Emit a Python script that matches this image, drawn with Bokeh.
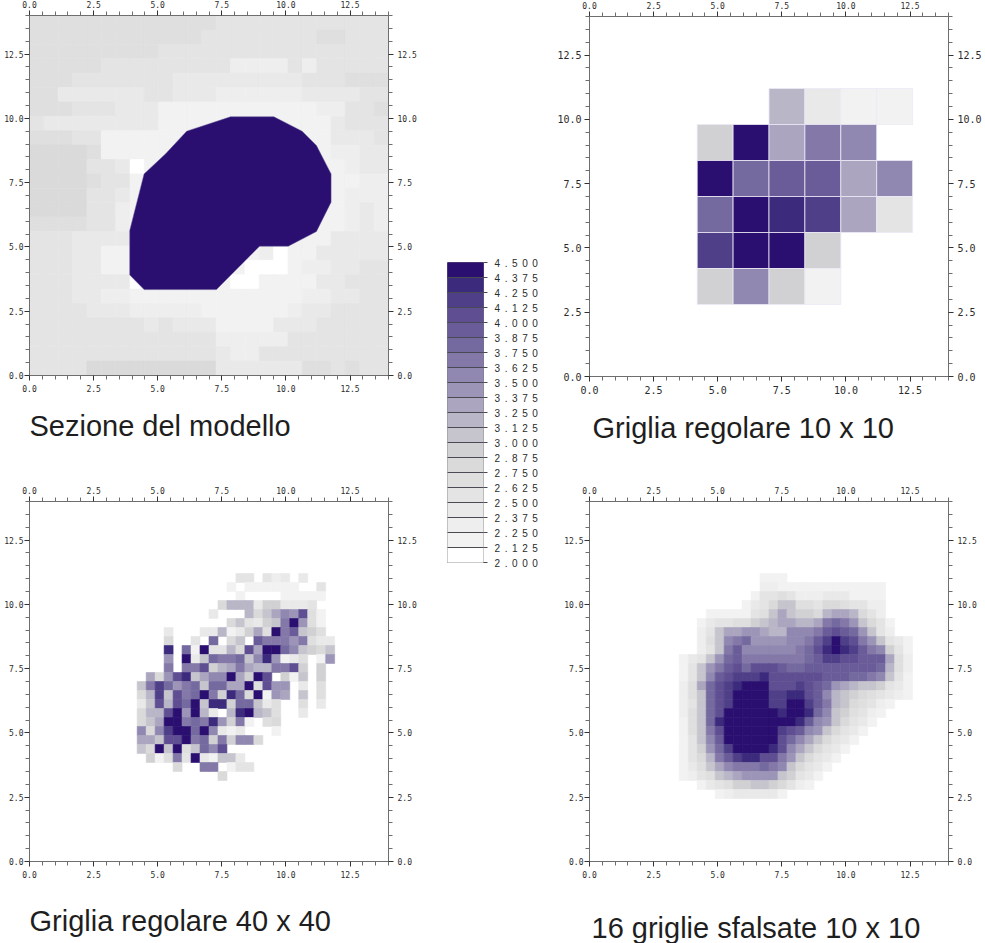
from bokeh.plotting import figure
from bokeh.layouts import row, column
from bokeh.models import (LinearAxis, FixedTicker, PrintfTickFormatter, Title,
                          LinearColorMapper, ColumnDataSource, Range1d)
from bokeh.embed import file_html
from bokeh.resources import INLINE

TITLES = ["Sezione del modello", "Griglia regolare 10 x 10",
          "Griglia regolare 40 x 40", "16 griglie sfalsate 10 x 10"]
MAJOR = [0.0, 2.5, 5.0, 7.5, 10.0, 12.5]
MINOR = [0.5, 1.0, 1.5, 2.0, 3.0, 3.5, 4.0, 4.5, 5.5, 6.0, 6.5, 7.0, 8.0, 8.5, 9.0, 9.5,
         10.5, 11.0, 11.5, 12.0, 13.0, 13.5, 14.0]
BAR_LEVELS = [2.0, 2.125, 2.25, 2.375, 2.5, 2.625, 2.75, 2.875, 3.0, 3.125, 3.25, 3.375,
              3.5, 3.625, 3.75, 3.875, 4.0, 4.125, 4.25, 4.375, 4.5]
PALETTE = ["#ffffff", "#f2f2f2", "#eeeeee", "#e9e9e9", "#e4e4e4", "#dfdfdf", "#dadada", "#d1d1d3",
           "#c6c5cd", "#b9b6c8", "#aba5c0", "#9c95b8", "#9088b0", "#8378a8", "#756a9f", "#6a5c99",
           "#5f4f92", "#4f3f88", "#3c2a7c", "#2a0f70"]

# model outline (x, y)
POLY_X = [3.91, 4.47, 5.31, 6.13, 7.84, 9.53, 10.63, 11.19, 11.76, 11.76, 11.19, 10.09, 8.97, 7.29, 4.47, 3.91]
POLY_Y = [5.64, 7.84, 8.62, 9.50, 10.06, 10.06, 9.50, 8.94, 7.84, 6.74, 5.60, 5.03, 5.03, 3.34, 3.34, 3.91]

# All grids hold value x 10.  Each entry: row index from the bottom -> (first column, values)
MODEL_25 = {
 24: (0, [27,27,27,27,27,27,27,27,27,27,27,27,27,25,25,25,25,25,25,25,25,25,25,25,25]),
 23: (0, [27,27,27,27,27,27,27,27,27,27,27,27,25,25,25,25,25,25,25,25,27,27,25,25,25]),
 22: (0, [27,27,27,27,27,27,27,27,27,25,25,25,25,25,25,25,25,25,25,25,25,25,25,25,25]),
 21: (0, [27,27,27,27,27,25,25,25,25,25,25,25,25,25,23,23,23,23,25,23,25,25,25,25,25]),
 20: (0, [27,27,27,25,25,25,25,25,25,25,24,24,24,24,24,24,24,24,24,25,25,25,27,27,27]),
 19: (0, [27,27,24,24,24,24,24,24,25,25,24,24,24,23,23,23,23,23,23,24,24,24,24,25,25]),
 18: (0, [27,27,27,25,25,25,24,24,24,22,22,22,22,22,22,22,22,22,22,22,23,23,25,25,27]),
 17: (0, [25,24,24,24,24,24,24,24,24,22,22,22,22,22,22,22,22,22,22,22,22,24,25,25,25]),
 16: (0, [27,27,27,25,25,22,22,22,22,22,22,22,22,22,22,22,22,22,22,22,22,24,24,24,25]),
 15: (0, [28,28,28,28,27,22,22,22,22,22,22,22,22,22,22,22,22,22,22,22,22,23,23,24,24]),
 14: (0, [28,28,28,28,26,26,24,21,22,22,22,22,22,22,22,22,22,22,22,22,22,22,23,24,24]),
 13: (0, [28,28,28,28,27,26,25,22,22,22,22,22,22,22,22,22,22,22,22,22,22,22,22,23,23]),
 12: (0, [28,28,28,28,25,25,24,22,22,22,22,22,22,22,22,22,22,22,22,22,22,22,23,23,23]),
 11: (0, [28,28,28,28,25,25,23,22,22,22,22,22,22,22,22,22,22,22,22,22,22,22,23,24,23]),
 10: (0, [27,27,27,27,25,25,23,22,22,22,22,22,22,22,22,22,22,22,22,22,22,22,23,24,23]),
 9:  (0, [26,25,25,24,24,24,24,23,22,22,22,22,22,22,22,22,22,22,22,22,22,24,24,24,24]),
 8:  (0, [25,25,25,24,24,22,22,22,22,22,22,22,22,22,22,22,23,20,22,22,24,24,24,24,24]),
 7:  (0, [25,25,25,24,24,22,22,22,22,22,22,22,22,22,22,21,20,20,22,23,23,24,24,25,25]),
 6:  (0, [25,25,25,24,24,24,24,20,22,22,22,22,22,22,20,20,22,22,22,22,24,24,25,25,25]),
 5:  (0, [25,25,25,24,24,23,23,22,22,22,22,22,22,22,22,22,22,22,22,23,23,24,24,25,25]),
 4:  (0, [25,25,25,25,24,24,24,23,23,23,23,23,22,22,22,22,22,22,23,24,24,25,25,25,25]),
 3:  (0, [25,25,25,25,25,25,25,25,24,25,24,24,24,22,22,22,22,24,24,24,25,25,25,25,25]),
 2:  (0, [26,26,26,26,26,26,26,26,26,26,26,26,26,23,23,23,23,23,25,25,25,25,25,25,25]),
 1:  (0, [26,26,26,26,26,26,26,26,26,26,26,26,26,24,23,23,25,25,25,25,25,25,25,25,25]),
 0:  (0, [26,26,26,26,28,28,28,28,28,28,28,28,28,24,24,24,24,24,24,27,27,25,27,25,25]),
}

GRID_10 = {
 7: (5, [32, 24, 22, 22]),
 6: (3, [29, 45, 33, 37, 36]),
 5: (3, [45, 38, 39, 39, 33, 36]),
 4: (3, [38, 45, 43, 42, 33, 25]),
 3: (3, [42, 45, 45, 29]),
 2: (3, [29, 36, 29, 22]),
}

GRID_40 = {
 31: (23, [25,25,20,25,23,24,20,24]),
 30: (22, [22,20,22,22,22,22,22,22,20,20,25]),
 29: (23, [22,20,20,20,20,22,22,22,22,22]),
 28: (21, [28,32,32,32,24,29,29,24,24,24,25]),
 27: (20, [24,20,20,20,32,28,30,33,35,34,41,27,22]),
 26: (22, [28,30,25,24,29,31,37,45,34,27,22]),
 25: (15, [24,20,20,20,24,24,32,22,24,29,33,27,45,37,39,31,29,27]),
 24: (15, [28,20,20,25,20,38,20,28,31,20,39,37,37,37,34,37,27,24,24]),
 23: (15, [43,20,38,22,45,25,25,32,28,41,33,45,44,38,35,31,29,28,30]),
 22: (15, [34,20,45,24,30,38,37,37,38,30,35,43,34,22,24,27,20,22,34]),
 21: (15, [37,20,37,37,41,29,32,33,37,33,32,32,37,37,41,29,20,29,20]),
 20: (13, [33,28,34,40,43,31,33,35,35,44,33,29,44,41,20,29,22,30,20,29]),
 19: (12, [30,37,42,38,34,37,38,31,38,38,33,33,45,27,40,34,34,20,24,20,27]),
 18: (12, [28,32,42,30,40,37,38,44,37,29,43,38,28,45,22,34,33,20,30,20,27]),
 17: (12, [24,31,40,32,40,38,44,30,43,43,29,38,38,31,24,27,20,20,27,20,24]),
 16: (12, [28,32,32,41,44,34,44,32,24,20,32,43,44,32,30,27,20,20,24]),
 15: (12, [28,31,33,44,44,37,38,37,43,34,29,37,22,20,27,28]),
 14: (12, [35,28,35,42,45,45,38,44,35,24,22,24,20,20,20,22]),
 13: (12, [33,33,31,40,40,45,37,38,29,37,29,35,35,28]),
 12: (12, [30,28,45,30,45,27,31,38,35,41]),
 11: (13, [29,22,27,37,25,45,24,22,30,31,24]),
 10: (16, [28,20,20,37,37,20,22,25,25]),
 9:  (21, [28]),
}

STAGGERED = {
 31: (19, [22,22,22]),
 30: (19, [23,23,22,22,22,22,22,22,22,22,22,22,22,22]),
 29: (18, [22,25,25,27,25,23,23,23,24,24,24,22,22,22,22]),
 28: (17, [22,24,26,28,31,30,27,27,26,28,28,27,25,25,23,23]),
 27: (13, [22,22,22,22,22,25,27,30,33,31,29,29,28,32,33,33,32,28,26,23]),
 26: (12, [22,24,25,26,27,27,29,30,32,33,33,32,32,33,37,38,37,34,31,28,25,22]),
 25: (12, [23,26,30,33,33,34,34,33,32,32,35,35,36,37,39,41,39,38,34,30,26,23]),
 24: (12, [23,27,30,35,37,38,34,34,34,34,35,36,37,39,42,45,42,40,37,34,30,26,24,22]),
 23: (12, [23,26,31,37,39,36,36,36,36,35,36,37,38,40,43,45,43,42,39,37,35,29,25,22]),
 22: (10, [22,24,26,30,34,38,39,37,37,37,37,37,37,37,38,39,42,42,40,40,39,39,39,33,27,23]),
 21: (10, [22,25,30,34,37,39,40,38,40,40,40,39,38,38,39,39,39,39,39,39,39,39,38,32,27,23]),
 20: (10, [22,25,31,36,39,41,42,42,42,43,41,40,40,40,40,40,39,39,39,38,38,37,36,30,26,22]),
 19: (10, [23,27,33,38,40,42,43,44,45,44,41,40,41,42,40,39,38,34,33,32,31,30,29,26,24,22]),
 18: (10, [23,27,30,38,41,42,45,45,45,45,42,42,43,43,41,39,36,32,30,29,28,27,25,24,23,22]),
 17: (10, [23,26,30,38,41,42,45,45,45,45,42,42,45,45,42,39,37,32,30,28,27,25,23,22]),
 16: (10, [23,27,31,38,40,44,45,45,45,45,44,43,45,45,43,38,35,31,29,27,25,23,22]),
 15: (10, [22,27,31,38,43,45,45,45,45,45,45,44,44,43,39,36,34,30,28,26,24,22]),
 14: (10, [22,27,30,37,40,45,45,45,45,45,45,42,40,39,36,34,31,28,26,24,22]),
 13: (10, [22,26,30,36,39,45,45,45,45,45,45,41,38,36,33,30,28,26,24,22]),
 12: (10, [22,25,29,34,38,42,45,45,45,45,43,40,36,33,30,28,26,24,22]),
 11: (10, [22,25,28,32,37,39,42,43,43,40,40,37,34,30,28,26,24,22]),
 10: (10, [22,24,27,30,33,36,37,37,37,38,37,35,31,28,26,24,22]),
 9:  (10, [22,23,25,27,30,32,33,34,34,34,34,31,29,26,24,22]),
 8:  (12, [22,24,26,27,29,29,30,30,29,28,25,23,22]),
 7:  (14, [22,23,24,24,24,24,24,22]),
}

LOW, HIGH = BAR_LEVELS[0], BAR_LEVELS[-1]
mapper = LinearColorMapper(palette=PALETTE, low=LOW, high=HIGH)
AXIS_COLOR = "#6e6e6e"
TEXT_COLOR = "#2b2b2b"


def cells(grid, n, keep_white):
    size = 14.0 / n
    l, r, b, t, v = [], [], [], [], []
    for rw, (start, vals) in grid.items():
        for i, val in enumerate(vals):
            if val <= 20 and not keep_white:
                continue
            c = start + i
            l.append(c * size); r.append((c + 1) * size)
            b.append(rw * size); t.append((rw + 1) * size)
            v.append(val / 10.0)
    return ColumnDataSource(dict(left=l, right=r, bottom=b, top=t, v=v))


def style_axis(ax, font_size, standoff):
    ax.ticker = FixedTicker(ticks=MAJOR, minor_ticks=MINOR)
    ax.formatter = PrintfTickFormatter(format="%.1f")
    ax.major_label_text_font = "DejaVu Sans Mono"
    ax.major_label_text_font_size = font_size
    ax.major_label_text_color = TEXT_COLOR
    ax.major_label_standoff = standoff
    ax.axis_line_color = AXIS_COLOR
    ax.major_tick_line_color = "#333333"
    ax.minor_tick_line_color = AXIS_COLOR
    ax.major_tick_in = 0
    ax.major_tick_out = 5
    ax.minor_tick_in = 0
    ax.minor_tick_out = 4


def panel(grid, n, title, w, h, bl, br, bt, bb, offset, standoff, big=False, keep_white=False, grid_lines=False):
    p = figure(width=w, height=h, min_border_left=bl, min_border_right=br, min_border_top=bt,
               min_border_bottom=bb, x_range=Range1d(0, 14), y_range=Range1d(0, 14),
               output_backend="svg", toolbar_location=None, x_axis_location=None, y_axis_location=None)
    p.grid.visible = False
    p.outline_line_color = AXIS_COLOR
    p.background_fill_color = "white"
    p.border_fill_color = None
    side = "10px" if big else "8px"
    left_so = 3 if big else 1
    for where, fs, so in (("below", side, 4), ("above", "8px", 3), ("left", side, left_so), ("right", side, 4)):
        ax = LinearAxis()
        style_axis(ax, fs, so)
        p.add_layout(ax, where)
    src = cells(grid, n, keep_white)
    fill = {"field": "v", "transform": mapper}
    if grid_lines:
        p.quad(left="left", right="right", bottom="bottom", top="top", source=src, fill_color=fill,
               line_color="#ece8f6", line_width=0.8)
    else:
        p.quad(left="left", right="right", bottom="bottom", top="top", source=src, fill_color=fill,
               line_color=fill, line_width=0.6)
    cap = Title(text=title, align="left", offset=offset, standoff=standoff, text_font="Liberation Sans",
                text_font_size="29px", text_font_style="normal", text_color="#1e1e1e")
    p.add_layout(cap, "below")
    return p


p1 = panel(MODEL_25, 25, TITLES[0], 440, 474, 28, 52, 19, 95, 0, 26, keep_white=True)
p1.patch(POLY_X, POLY_Y, fill_color=PALETTE[-1], line_color="#5c4c90", line_width=0.5)
p3 = panel(GRID_40, 40, TITLES[2], 440, 504, 29, 51, 31, 113, 0, 44)
p2 = panel(GRID_10, 10, TITLES[1], 437, 474, 41, 36, 20, 94, 3, 27, big=True, grid_lines=True)
p4 = panel(STAGGERED, 40, TITLES[3], 437, 504, 40, 37, 31, 113, 2, 59)

bar = figure(width=108, height=947, min_border_left=7, min_border_right=65, min_border_top=266,
             min_border_bottom=381, x_range=Range1d(0, 1), y_range=Range1d(LOW, HIGH),
             output_backend="svg", toolbar_location=None, x_axis_location=None, y_axis_location=None,
             styles={"letter-spacing": "4.6px"})
bar.xgrid.visible = False
bar.ygrid.ticker = FixedTicker(ticks=BAR_LEVELS)
bar.ygrid.grid_line_color = "#4a4a55"
bar.ygrid.level = "overlay"
bar.outline_line_color = "#777777"
bar.border_fill_color = None
bar.quad(left=[0] * 20, right=[1] * 20, bottom=BAR_LEVELS[:-1], top=BAR_LEVELS[1:], fill_color=PALETTE,
         line_color=PALETTE)
bax = LinearAxis(ticker=FixedTicker(ticks=BAR_LEVELS), formatter=PrintfTickFormatter(format="%.3f"))
bax.major_label_text_font = "Liberation Sans"
bax.major_label_text_font_size = "10px"
bax.major_label_text_color = TEXT_COLOR
bax.major_label_standoff = 7
bax.axis_line_color = None
bax.major_tick_line_color = "#4a4a55"
bax.major_tick_in = 0
bax.major_tick_out = 4
bax.minor_tick_line_color = None
bar.add_layout(bax, "right")

page = row(column(p1, p3, spacing=0), bar, column(p2, p4, spacing=0), spacing=0, margin=(-4, 0, -34, 0))
open("out.html", "w").write(file_html(page, INLINE))
